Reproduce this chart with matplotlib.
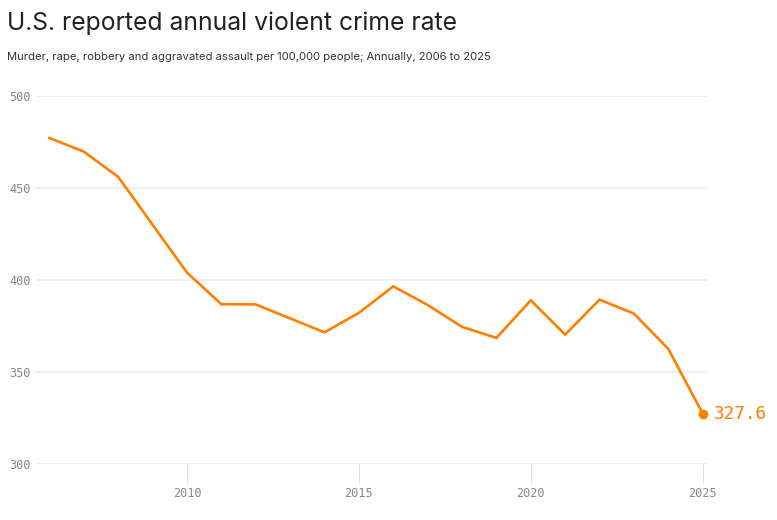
import matplotlib
matplotlib.use("Agg")
import matplotlib.pyplot as plt

# Data
years = [2006, 2007, 2008, 2009, 2010, 2011, 2012, 2013, 2014, 2015,
         2016, 2017, 2018, 2019, 2020, 2021, 2022, 2023, 2024, 2025]
rates = [477.3, 469.9, 456.2, 430.2, 404.2, 387.0, 386.9, 379.3, 371.7, 382.3,
         396.7, 386.6, 374.7, 368.7, 389.1, 370.5, 389.5, 381.9, 362.7, 327.6]
y_ticks = [300, 350, 400, 450, 500]
x_ticks = [2010, 2015, 2020, 2025]

orange = "#ff7f00"
grey_text = "#888888"
grid_col = "#ededed"

fig = plt.figure(figsize=(7.77, 5.2), dpi=100)
ax = fig.add_axes([0.045, 0.107, 0.866, 0.708])

ax.plot(years, rates, color=orange, lw=1.9, solid_joinstyle="miter", zorder=3)
ax.plot(years[-1], rates[-1], "o", color=orange, ms=6, zorder=4)
ax.annotate(f"{rates[-1]}", (years[-1], rates[-1]), xytext=(8, 0),
            textcoords="offset points", va="center", ha="left",
            color=orange, fontsize=12.7, family="DejaVu Sans Mono",
            annotation_clip=False)

ax.set_xlim(2005.58, 2025.15)
ax.set_ylim(300, 500)
ax.set_yticks(y_ticks)
ax.set_xticks(x_ticks)
ax.grid(axis="y", color=grid_col, lw=1.3, zorder=0)
ax.set_axisbelow(True)

for s in ax.spines.values():
    s.set_visible(False)

ax.tick_params(axis="y", length=0, pad=3, labelsize=8.6, labelcolor=grey_text)
ax.tick_params(axis="x", length=14, width=0.9, color="#e0e0e0", pad=2,
               labelsize=8.6, labelcolor=grey_text)
for lab in ax.get_xticklabels() + ax.get_yticklabels():
    lab.set_family("DejaVu Sans Mono")

fig.text(0.009, 0.943, "U.S. reported annual violent crime rate",
         fontsize=17.8, family="Inter", color="#222222", va="baseline")
fig.text(0.009, 0.885,
         "Murder, rape, robbery and aggravated assault per 100,000 people; Annually, 2006 to 2025",
         fontsize=8.1, family="Inter", color="#333333", va="baseline")

fig.savefig("out.png", dpi=100)
